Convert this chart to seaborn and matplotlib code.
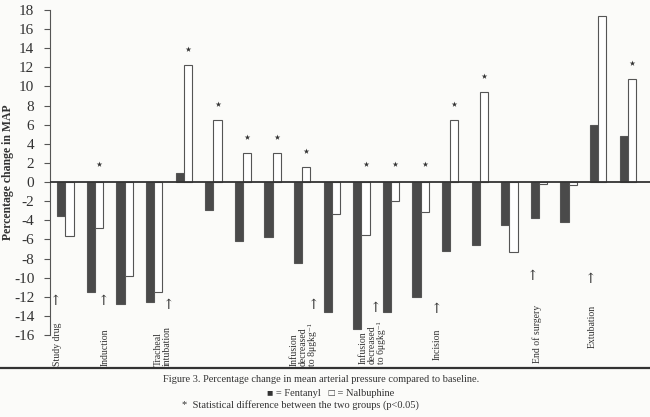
import matplotlib
matplotlib.use("Agg")
import matplotlib.pyplot as plt
from matplotlib.lines import Line2D
import seaborn as sns
import pandas as pd
import numpy as np

# ---------------- data ----------------
timepoints = [f"T{i+1}" for i in range(20)]
fentanyl = [-3.5, -11.5, -12.8, -12.5, 1.0, -2.9, -6.2, -5.7, -8.5, -13.6,
            -15.4, -13.6, -12.0, -7.2, -6.6, -4.5, -3.8, -4.2, 6.0, 4.8]
nalbuphine = [-5.6, -4.8, -9.8, -11.5, 12.2, 6.5, 3.0, 3.0, 1.6, -3.3,
              -5.5, -2.0, -3.1, 6.5, 9.4, -7.3, -0.2, -0.3, 17.4, 10.8]
significant = [0, 1, 0, 0, 1, 1, 1, 1, 1, 0, 1, 1, 1, 1, 1, 0, 0, 0, 1, 1]
y_ticks = list(range(-16, 19, 2))
event_labels = ["Study drug", "Induction", "Tracheal\nintubation",
                "Infusion\ndecreased\nto 8\u03bcgkg\u207b\u00b9",
                "Infusion\ndecreased\nto 6\u03bcgkg\u207b\u00b9",
                "Incision", "End of surgery", "Extubation"]
ylabel = "Percentage change in MAP"
caption1 = "Figure 3. Percentage change in mean arterial pressure compared to baseline."
caption2 = "\u25a0 = Fentanyl   \u25a1 = Nalbuphine"
caption3 = "*  Statistical difference between the two groups (p<0.05)"

# ---------------- layout / style ----------------
# (text x in group units, text bottom y, arrow x, arrow y)
event_pos = [(-0.25, -19.2, -0.35, -12.4),
             (1.34, -19.2, 1.28, -12.4),
             (3.30, -19.2, 3.47, -12.9),
             (8.03, -19.2, 8.37, -12.9),
             (10.36, -19.0, 10.46, -13.2),
             (12.56, -18.6, 12.53, -13.3),
             (15.93, -18.9, 15.76, -9.8),
             (17.79, -17.4, 17.72, -10.1)]

sns.set_theme(style="white")
serif = ["Liberation Serif", "DejaVu Serif"]
plt.rcParams["font.family"] = serif
plt.rcParams["axes.unicode_minus"] = False
ink = "#333333"
dark = "#4a4a4a"
bg = "#fbfbf9"

df = pd.DataFrame({
    "point": timepoints * 2,
    "value": fentanyl + nalbuphine,
    "drug": ["Fentanyl"] * 20 + ["Nalbuphine"] * 20,
})

fig = plt.figure(figsize=(6.5, 4.17), dpi=100, facecolor=bg)
ax = fig.add_axes([50 / 650, 1 - 335 / 417, 600 / 650, 325 / 417])
ax.set_facecolor(bg)

sns.barplot(data=df, x="point", y="value", hue="drug", order=timepoints,
            hue_order=["Fentanyl", "Nalbuphine"],
            palette={"Fentanyl": dark, "Nalbuphine": "white"},
            width=0.56, gap=0, edgecolor="#555555", linewidth=0.8,
            legend=False, errorbar=None, ax=ax)

# significance stars above the nalbuphine bars
sx = [i + 0.14 for i, s in enumerate(significant) if s]
sy = [max(nalbuphine[i], 0.2) + 1.7 for i, s in enumerate(significant) if s]
ax.scatter(sx, sy, marker="*", s=18, color=ink, zorder=5, linewidths=0)

ax.axhline(0, color=ink, lw=1.3, zorder=4)
ax.set_ylim(-16, 18)
ax.set_xlim(-0.52, 19.75)
ax.set_xticks([])
ax.set_xlabel("")
ax.set_yticks(y_ticks)
ax.set_yticklabels([str(t) for t in y_ticks], fontsize=11, color=ink)
ax.tick_params(axis="y", direction="out", length=4.3, width=0.8,
               color="#555555", pad=7, left=True)
for s in ["top", "right", "bottom"]:
    ax.spines[s].set_visible(False)
ax.spines["left"].set_color("#555555")
ax.spines["left"].set_linewidth(0.8)

ax.set_ylabel(ylabel, fontsize=8.5, fontweight="bold", color=ink)
ax.yaxis.set_label_coords(-0.060, 0.5)

for lab, (tx, ty, axx, ay) in zip(event_labels, event_pos):
    ax.text(tx, ty, lab, rotation=90, ha="center", va="bottom",
            multialignment="left", fontsize=7, color=ink, clip_on=False,
            linespacing=1.0)
    ax.text(axx, ay, "\u2191", ha="center", va="center", fontsize=10,
            color=ink, clip_on=False, family=["DejaVu Serif"])

fig.add_artist(Line2D([0, 1], [1 - 368 / 417, 1 - 368 / 417],
                      transform=fig.transFigure, color=ink, lw=1.6))
fig.text(0.494, 1 - 380 / 417, caption1, ha="center", va="center",
         fontsize=7.5, color=ink)
fig.text(0.508, 1 - 393 / 417, caption2, ha="center", va="center",
         fontsize=7.5, color=ink)
fig.text(0.462, 1 - 405 / 417, caption3, ha="center", va="center",
         fontsize=7.5, color=ink)

fig.savefig("out.png", dpi=100, facecolor=bg)
